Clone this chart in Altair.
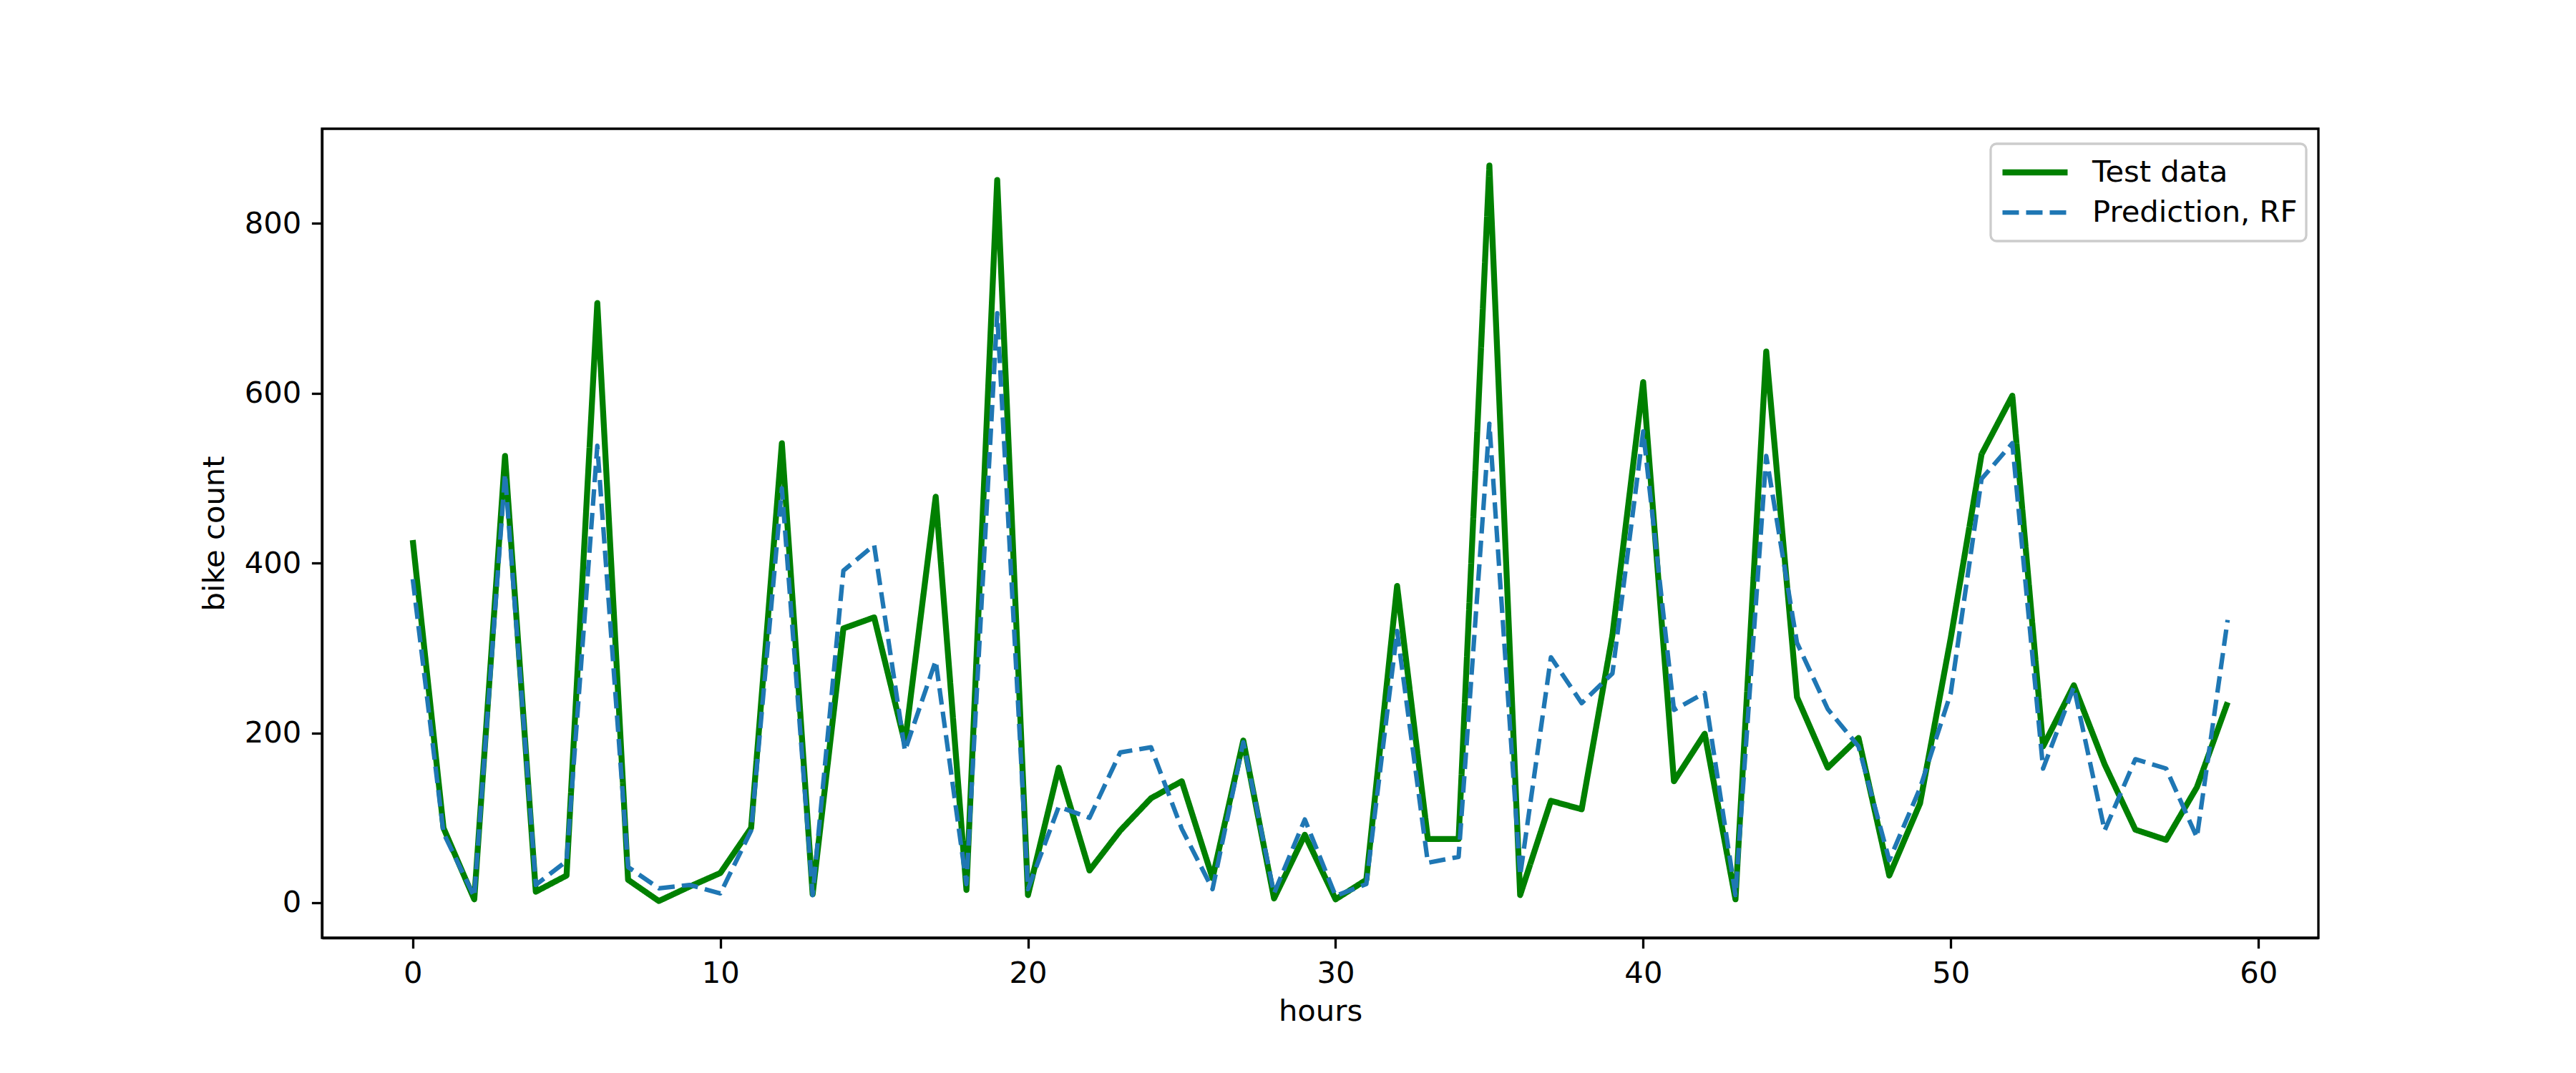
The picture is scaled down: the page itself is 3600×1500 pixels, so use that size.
import altair as alt
import pandas as pd

hours = list(range(60))
test_data = [427, 88, 4, 526, 13, 32, 706, 27, 2, 19, 35, 88, 541, 10,
             323, 336, 188, 478, 15, 851, 9, 159, 38, 85, 123, 143, 29, 191, 5, 80,
             4, 27, 373, 75, 75, 868, 9, 120, 110, 315, 613, 143, 199, 4, 649, 242, 159,
             194, 32, 117, 312, 528, 597, 184, 256, 163, 86, 74, 136, 236]
prediction_rf = [381, 82, 7, 505, 21, 49, 538, 42, 17, 21, 11, 85, 488, 9,
                 391, 421, 179, 285, 22, 694, 16, 113, 100, 177, 183, 87, 16, 189, 11, 98,
                 8, 22, 320, 47, 54, 564, 32, 289, 235, 270, 555, 227, 247, 9, 526, 306, 228,
                 184, 50, 135, 247, 499, 541, 158, 254, 85, 169, 158, 77, 333]
series_names = ["Test data", "Prediction, RF"]
x_ticks = [0, 10, 20, 30, 40, 50, 60]
y_ticks = [0, 200, 400, 600, 800]

df = pd.concat([
    pd.DataFrame({"hours": hours, "value": test_data, "series": series_names[0]}),
    pd.DataFrame({"hours": hours, "value": prediction_rf, "series": series_names[1]}),
])

FONT = "DejaVu Sans"
FS = 41.7

legend = alt.Legend(
    orient="none", legendX=2332, legendY=21, title=None,
    labelFont=FONT, labelFontSize=FS, labelColor="black", labelLimit=2000,
    symbolSize=8281, clipHeight=56, padding=12, rowPadding=0,
    labelOffset=30, fillColor="rgba(255,255,255,0.8)", strokeColor="#cccccc",
    cornerRadius=8, symbolType="stroke",
)

enc = dict(
    x=alt.X("hours:Q", scale=alt.Scale(domain=[-2.95, 61.95], nice=False, zero=False),
            axis=alt.Axis(values=x_ticks, format="d", title="hours", titlePadding=12, labelFlush=False)),
    y=alt.Y("value:Q", scale=alt.Scale(domain=[-41.3, 911.3], nice=False, zero=False),
            axis=alt.Axis(values=y_ticks, format="d", title="bike count", titlePadding=20)),
    color=alt.Color("series:N", scale=alt.Scale(domain=series_names, range=["green", "#1f77b4"]), legend=legend),
    strokeDash=alt.StrokeDash("series:N", scale=alt.Scale(domain=series_names, range=[[1, 0], [23, 10]]), legend=legend),
    strokeWidth=alt.StrokeWidth("series:N", scale=alt.Scale(domain=series_names, range=[8.3, 6.25]), legend=legend),
)

base = alt.Chart(df)
green = base.transform_filter(alt.datum.series == series_names[0]).mark_line(strokeJoin="round", clip=True).encode(**enc)
blue = base.transform_filter(alt.datum.series == series_names[1]).mark_line(strokeJoin="round", clip=True).encode(**enc)

chart = alt.layer(green, blue).properties(
    width=2790, height=1131,
    autosize=alt.AutoSizeParams(type="none"),
    padding={"left": 450, "top": 180, "right": 360, "bottom": 189},
    background="white",
).configure_view(
    stroke="black", strokeWidth=3.3
).configure_axis(
    domainColor="black", domainWidth=3.3, tickColor="black", tickWidth=3.3, tickSize=14.6,
    labelFont=FONT, labelFontSize=FS, labelColor="black", labelPadding=14.6,
    titleFont=FONT, titleFontSize=FS, titleFontWeight="normal", titleColor="black",
    grid=False,
).configure_legend(
    strokeWidth=3.3
)

chart.save("out.html", embed_options={"renderer": "svg", "actions": False})
